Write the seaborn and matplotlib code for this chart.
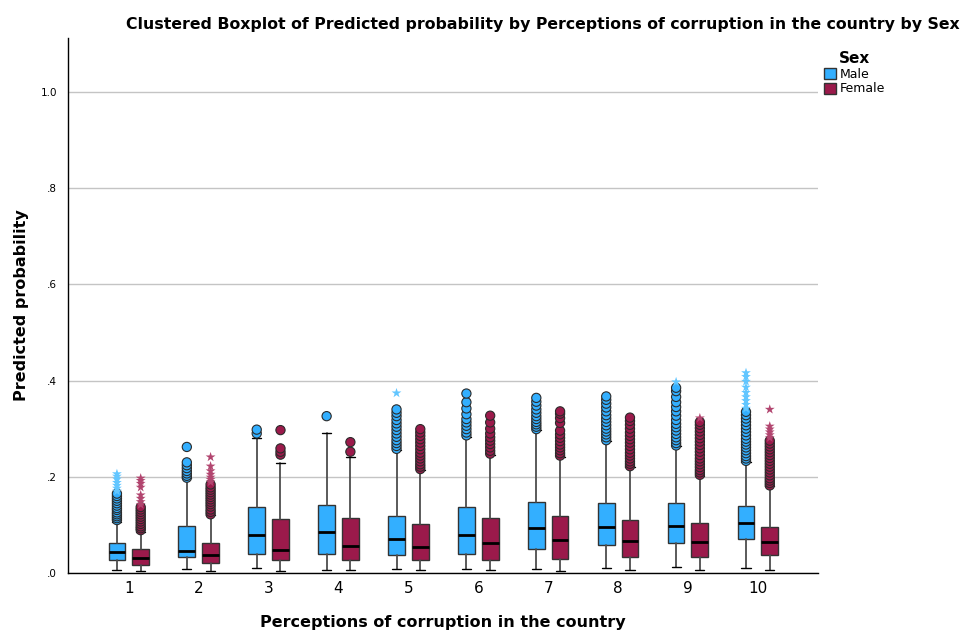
import numpy as np
import pandas as pd
import seaborn as sns
import matplotlib.pyplot as plt
from matplotlib.patches import Patch

categories = ["1", "2", "3", "4", "5", "6", "7", "8", "9", "10"]
sexes = ["Male", "Female"]

# box summary (whisker low, q1, median, q3, whisker high)
male_low = [0.006, 0.008, 0.011, 0.007, 0.009, 0.009, 0.009, 0.010, 0.012, 0.010]
male_q1 = [0.028, 0.033, 0.040, 0.040, 0.037, 0.040, 0.049, 0.058, 0.062, 0.071]
male_med = [0.044, 0.046, 0.080, 0.085, 0.071, 0.080, 0.093, 0.096, 0.098, 0.103]
male_q3 = [0.063, 0.098, 0.137, 0.142, 0.119, 0.137, 0.148, 0.146, 0.146, 0.140]
male_high = [0.107, 0.197, 0.280, 0.290, 0.256, 0.283, 0.297, 0.274, 0.263, 0.231]

female_low = [0.004, 0.004, 0.004, 0.007, 0.007, 0.007, 0.005, 0.007, 0.007, 0.007]
female_q1 = [0.017, 0.021, 0.026, 0.027, 0.027, 0.027, 0.030, 0.033, 0.033, 0.037]
female_med = [0.031, 0.037, 0.048, 0.057, 0.055, 0.062, 0.069, 0.067, 0.064, 0.064]
female_q3 = [0.049, 0.062, 0.112, 0.114, 0.101, 0.114, 0.119, 0.110, 0.103, 0.096]
female_high = [0.086, 0.120, 0.228, 0.241, 0.214, 0.245, 0.242, 0.220, 0.202, 0.180]

# outliers (circles) and extreme values (stars)
male_circles = [
    [0.110, 0.114, 0.118, 0.122, 0.126, 0.131, 0.135, 0.140, 0.145, 0.150, 0.155, 0.160, 0.165],
    [0.198, 0.202, 0.207, 0.212, 0.218, 0.224, 0.230, 0.262],
    [0.290, 0.298],
    [0.326],
    [0.258, 0.264, 0.270, 0.276, 0.283, 0.290, 0.297, 0.304, 0.311, 0.318, 0.326, 0.333, 0.340],
    [0.286, 0.292, 0.299, 0.306, 0.313, 0.320, 0.330, 0.342, 0.355, 0.373],
    [0.299, 0.304, 0.309, 0.314, 0.320, 0.326, 0.333, 0.340, 0.348, 0.356, 0.364],
    [0.276, 0.282, 0.288, 0.294, 0.300, 0.307, 0.314, 0.321, 0.328, 0.336, 0.344, 0.352, 0.360, 0.367],
    [0.265, 0.270, 0.276, 0.282, 0.289, 0.296, 0.303, 0.310, 0.318, 0.327, 0.336, 0.345, 0.355, 0.366, 0.378, 0.385],
    [0.233, 0.238, 0.243, 0.249, 0.255, 0.261, 0.267, 0.273, 0.279, 0.286, 0.293, 0.300, 0.307, 0.314, 0.321, 0.328, 0.335],
]
male_stars = [
    [0.170, 0.176, 0.182, 0.188, 0.195, 0.201, 0.206],
    [], [], [],
    [0.374],
    [], [], [],
    [0.397],
    [0.342, 0.350, 0.358, 0.366, 0.375, 0.386, 0.398, 0.408, 0.416],
]
female_circles = [
    [0.089, 0.093, 0.097, 0.102, 0.107, 0.112, 0.117, 0.122, 0.127, 0.132, 0.137],
    [0.122, 0.127, 0.132, 0.138, 0.143, 0.148, 0.153, 0.158, 0.163, 0.168, 0.173, 0.178, 0.184],
    [0.246, 0.252, 0.259, 0.297],
    [0.252, 0.272],
    [0.216, 0.221, 0.226, 0.232, 0.238, 0.244, 0.250, 0.257, 0.264, 0.271, 0.278, 0.285, 0.292, 0.299],
    [0.248, 0.254, 0.261, 0.268, 0.275, 0.282, 0.290, 0.300, 0.313, 0.327],
    [0.244, 0.249, 0.255, 0.261, 0.267, 0.274, 0.281, 0.288, 0.296, 0.312, 0.322, 0.331, 0.336],
    [0.222, 0.227, 0.232, 0.238, 0.244, 0.250, 0.257, 0.264, 0.271, 0.278, 0.285, 0.292, 0.300, 0.308, 0.316, 0.323],
    [0.204, 0.209, 0.214, 0.220, 0.226, 0.232, 0.238, 0.245, 0.252, 0.259, 0.266, 0.273, 0.280, 0.287, 0.294, 0.301, 0.308, 0.314],
    [0.182, 0.187, 0.192, 0.197, 0.203, 0.209, 0.215, 0.221, 0.227, 0.233, 0.239, 0.245, 0.251, 0.257, 0.263, 0.269, 0.275],
]
female_stars = [
    [0.142, 0.148, 0.155, 0.162, 0.178, 0.186, 0.192, 0.197],
    [0.189, 0.194, 0.199, 0.205, 0.212, 0.222, 0.241],
    [], [], [], [], [], [],
    [0.322],
    [0.281, 0.287, 0.293, 0.299, 0.305, 0.340],
]

sns.set_theme(style="white")
plt.rcParams["font.family"] = ["DejaVu Sans"]
plt.rcParams["text.color"] = "black"
plt.rcParams["xtick.color"] = "black"
plt.rcParams["ytick.color"] = "black"
plt.rcParams["axes.labelcolor"] = "black"

palette = {"Male": "#33AFFF", "Female": "#9B1A4B"}
star_palette = {"Male": "#62C6FF", "Female": "#B2456F"}
offsets = {"Male": -0.17, "Female": 0.17}

box_stats = {
    "Male": (male_low, male_q1, male_med, male_q3, male_high),
    "Female": (female_low, female_q1, female_med, female_q3, female_high),
}
outliers = {
    "Male": (male_circles, male_stars),
    "Female": (female_circles, female_stars),
}

fig = plt.figure(figsize=(9.63, 6.32), dpi=100)
ax = fig.add_axes([68 / 963, 1 - 573 / 632, 750 / 963, 535 / 632])

pos = np.arange(len(categories))
for sex in sexes:
    lo, q1, med, q3, hi = box_stats[sex]
    stats = [dict(whislo=lo[i], q1=q1[i], med=med[i], q3=q3[i], whishi=hi[i], fliers=[])
             for i in range(len(categories))]
    ax.bxp(stats, positions=pos + offsets[sex], widths=0.24, patch_artist=True,
           showfliers=False, manage_ticks=False, capwidths=0.13,
           boxprops=dict(facecolor=palette[sex], edgecolor="#333333", linewidth=1),
           medianprops=dict(color="black", linewidth=2),
           whiskerprops=dict(color="#4d4d4d", linewidth=1.3),
           capprops=dict(color="black", linewidth=1))

rows = []
for sex in sexes:
    circles, stars = outliers[sex]
    for i in range(len(categories)):
        for v in circles[i]:
            rows.append(dict(cat=i, sex=sex, value=v, kind="circle"))
        for v in stars[i]:
            rows.append(dict(cat=i, sex=sex, value=v, kind="star"))
df = pd.DataFrame(rows)
df["x"] = df["cat"] + df["sex"].map(offsets)

sns.scatterplot(data=df[df["kind"] == "circle"], x="x", y="value", hue="sex",
                palette=palette, s=44, edgecolor="#2b2b2b", linewidth=0.8,
                legend=False, ax=ax, zorder=3)
sns.scatterplot(data=df[df["kind"] == "star"], x="x", y="value", hue="sex",
                palette=star_palette, marker="*", s=55, linewidth=0,
                legend=False, ax=ax, zorder=3)

ax.set_xlim(-0.87, 9.86)
ax.set_ylim(0, 1.112)
ax.set_xticks(pos)
ax.set_xticklabels(categories, fontsize=11)
ax.set_yticks([0, 0.2, 0.4, 0.6, 0.8, 1.0])
ax.set_yticklabels([".0", ".2", ".4", ".6", ".8", "1.0"], fontsize=7.5)
ax.tick_params(axis="both", length=0)
ax.tick_params(axis="y", pad=8)
ax.tick_params(axis="x", pad=6)
ax.set_xlabel("")
ax.set_ylabel("")
ax.yaxis.grid(True, color="#C4C4C4", linewidth=1)
ax.set_axisbelow(True)
for side in ["top", "right"]:
    ax.spines[side].set_visible(False)
for side in ["left", "bottom"]:
    ax.spines[side].set_color("black")
    ax.spines[side].set_linewidth(1)

fig.text(960 / 963, 1 - 24 / 632,
         "Clustered Boxplot of Predicted probability by Perceptions of corruption in the country by Sex",
         ha="right", va="center", fontweight="bold", fontsize=11.3)
fig.text(22 / 963, 1 - 305 / 632, "Predicted probability", rotation=90,
         ha="center", va="center", fontweight="bold", fontsize=11.5)
fig.text(443 / 963, 1 - 622 / 632, "Perceptions of corruption in the country",
         ha="center", va="center", fontweight="bold", fontsize=11.5)

handles = [Patch(facecolor=palette[s], edgecolor="#333333", label=s) for s in sexes]
fig.legend(handles=handles, title="Sex", loc="upper left",
           bbox_to_anchor=(815 / 963, 1 - 42 / 632), frameon=False,
           title_fontproperties={"weight": "bold", "size": 11}, fontsize=9,
           handlelength=1.0, handleheight=1.0, handletextpad=0.3,
           labelspacing=0.15, borderpad=0.2)

fig.savefig("out.png", dpi=100)
